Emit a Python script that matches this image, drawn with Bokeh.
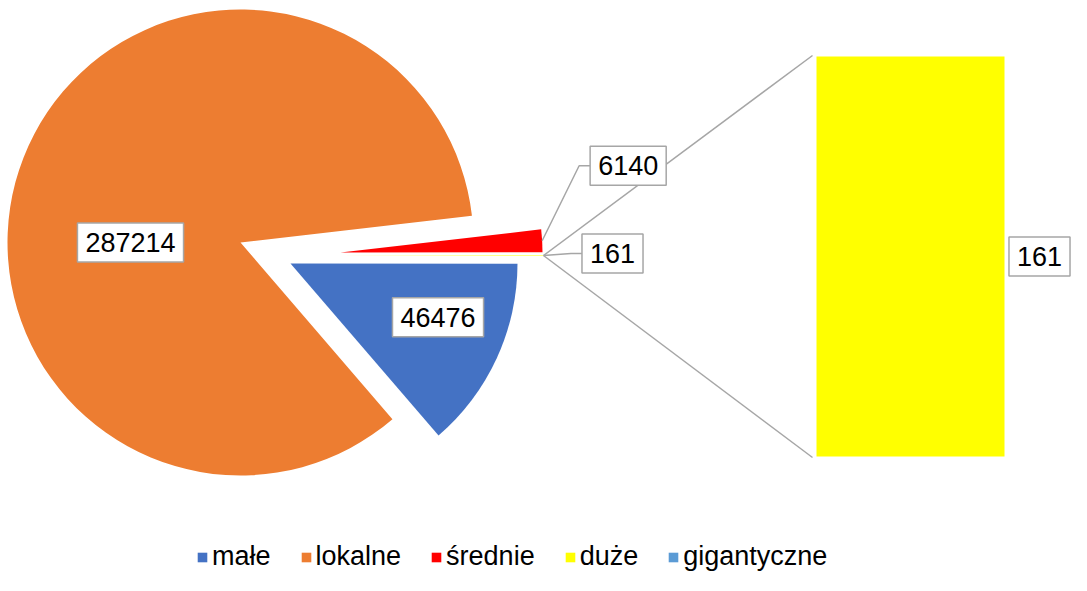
import math
from bokeh.plotting import figure
from bokeh.models import ColumnDataSource, Range1d, Legend, LegendItem
from bokeh.core.properties import value
from bokeh.embed import file_html
from bokeh.resources import INLINE

# ---------------- data ----------------
categories = ["małe", "lokalne", "średnie", "duże", "gigantyczne"]
values = [46476, 287214, 6140, 161, 0]
colors = ["#4472C4", "#ED7D31", "#FF0000", "#FFFF00", "#5B9BD5"]
in_pie = [True, True, True, False, False]   # False -> shown in the secondary bar

# ---------------- style / layout ----------------
FONT = "Liberation Sans"
FS = 27
LINE_C = "#a6a6a6"
PIE_CX, PIE_CY = 269, -253
# per-slice explosion offset (dx, dy) and radius
EXPLODE = {"małe": (21, -10), "lokalne": (-29, 11), "średnie": (71, 1), "other": (71, -2)}
RADIUS = {"małe": 227, "lokalne": 233, "średnie": 202, "other": 203}
# in-slice label placement (distance, angle deg) from slice centre
IN_LABEL = {"małe": (157, -20), "lokalne": (110, 180)}
# outside label placement relative to arc point (dx, dy)
OUT_LABEL = {"średnie": (86, 75), "other": (69, 2)}
BAR_LEFT, BAR_RIGHT, BAR_TOP, BAR_BOTTOM = 816, 1004, -56, -456
BAR_LABEL_DX = 35
PAD_X, PAD_Y = 8, 10

p = figure(width=1071, height=575, output_backend="svg", toolbar_location=None,
           x_range=Range1d(0, 1071), y_range=Range1d(-575, 0),
           x_axis_location=None, y_axis_location=None, min_border=0)
p.xgrid.visible = False
p.ygrid.visible = False
p.outline_line_color = None
p.background_fill_color = "white"

total = float(sum(values))
other_val = sum(v for v, f in zip(values, in_pie) if not f)
other_th = other_val / total * 2 * math.pi

wx, wy, wr, ws, we, wc = [], [], [], [], [], []
info = {}
s = -other_th / 2
for cat, v, c, f in zip(categories, values, colors, in_pie):
    if not f:
        continue
    th = v / total * 2 * math.pi
    start, end = s - th, s
    s = start
    dx, dy = EXPLODE[cat]
    cx, cy = PIE_CX + dx, PIE_CY + dy
    r = RADIUS[cat]
    wx.append(cx); wy.append(cy); wr.append(r); ws.append(start); we.append(end); wc.append(c)
    info[cat] = dict(cx=cx, cy=cy, r=r, mid=(start + end) / 2, v=v)

# "other" slice (goes to the bar)
dx, dy = EXPLODE["other"]
ocx, ocy = PIE_CX + dx, PIE_CY + dy
orad = RADIUS["other"]
wx.append(ocx); wy.append(ocy); wr.append(orad); ws.append(-other_th / 2); we.append(other_th / 2)
wc.append(colors[categories.index("duże")])

p.wedge(x="x", y="y", radius="r", start_angle="s", end_angle="e", color="c",
        line_color=None, direction="anticlock",
        source=ColumnDataSource(dict(x=wx, y=wy, r=wr, s=ws, e=we, c=wc)))

# secondary bar (stacked, proportional to the "other" total)
bl, br, bt, bb, bc = [], [], [], [], []
bar_labels = []
cum = 0.0
H = BAR_TOP - BAR_BOTTOM
for cat, v, c, f in zip(categories, values, colors, in_pie):
    if f or v <= 0:
        continue
    y0 = BAR_BOTTOM + cum / other_val * H
    cum += v
    y1 = BAR_BOTTOM + cum / other_val * H
    bl.append(BAR_LEFT); br.append(BAR_RIGHT); bb.append(y0); bt.append(y1); bc.append(c)
    bar_labels.append((BAR_RIGHT + BAR_LABEL_DX, (y0 + y1) / 2, str(v)))
p.quad(left="l", right="r", top="t", bottom="b", color="c", line_color=None,
       source=ColumnDataSource(dict(l=bl, r=br, t=bt, b=bb, c=bc)))

# connector lines pie -> bar
ax, ay = ocx + orad, ocy
p.segment(x0=[ax, ax], y0=[ay, ay], x1=[BAR_LEFT - 4, BAR_LEFT - 4], y1=[BAR_TOP + 1, BAR_BOTTOM - 1],
          line_color=LINE_C, line_width=1.5)

# labels
lx, ly, lt = [], [], []
for cat in ["lokalne", "małe"]:
    d, a = IN_LABEL[cat]
    i = info[cat]
    lx.append(i["cx"] + d * math.cos(math.radians(a)))
    ly.append(i["cy"] + d * math.sin(math.radians(a)))
    lt.append(str(i["v"]))

def text_halfw(t):
    return len(t) * 0.556 * FS / 2 + PAD_X

# outside labels with leader lines
outs = []
i = info["średnie"]
outs.append((i["cx"] + i["r"] * math.cos(i["mid"]), i["cy"] + i["r"] * math.sin(i["mid"]),
             OUT_LABEL["średnie"], str(i["v"])))
outs.append((ax, ay, OUT_LABEL["other"], str(other_val)))
for px, py, (odx, ody), t in outs:
    tx, ty = px + odx, py + ody
    left = tx - text_halfw(t)
    p.line(x=[px, left - 11, left], y=[py, ty, ty], line_color=LINE_C, line_width=1.5)
    lx.append(tx); ly.append(ty); lt.append(t)

for bx, by, t in bar_labels:
    lx.append(bx); ly.append(by); lt.append(t)

p.text(x="x", y="y", text="t", source=ColumnDataSource(dict(x=lx, y=ly, t=lt)),
       text_font=value(FONT), text_font_size=f"{FS}px", text_color="black",
       text_align="center", text_baseline="middle",
       background_fill_color="white", border_line_color=LINE_C, border_line_width=1.5,
       padding=(PAD_X, PAD_Y))

# legend (swatches drawn from an off-screen quad source, one row per category)
OFF = -10000
leg_src = ColumnDataSource(dict(l=[OFF] * len(categories), r=[OFF] * len(categories),
                                t=[OFF] * len(categories), b=[OFF] * len(categories), c=colors))
leg_r = p.quad(left="l", right="r", top="t", bottom="b", color="c", line_color=None, source=leg_src)
items = [LegendItem(label=cat, renderers=[leg_r], index=k) for k, cat in enumerate(categories)]
legend = Legend(items=items, location=(196, 3), orientation="horizontal",
                label_text_font=FONT, label_text_font_size=f"{FS}px", label_text_color="black",
                glyph_width=12, glyph_height=12, label_standoff=4, spacing=29,
                padding=0, margin=0, border_line_color=None, background_fill_alpha=0)
p.add_layout(legend)

open("out.html", "w").write(file_html(p, INLINE))
